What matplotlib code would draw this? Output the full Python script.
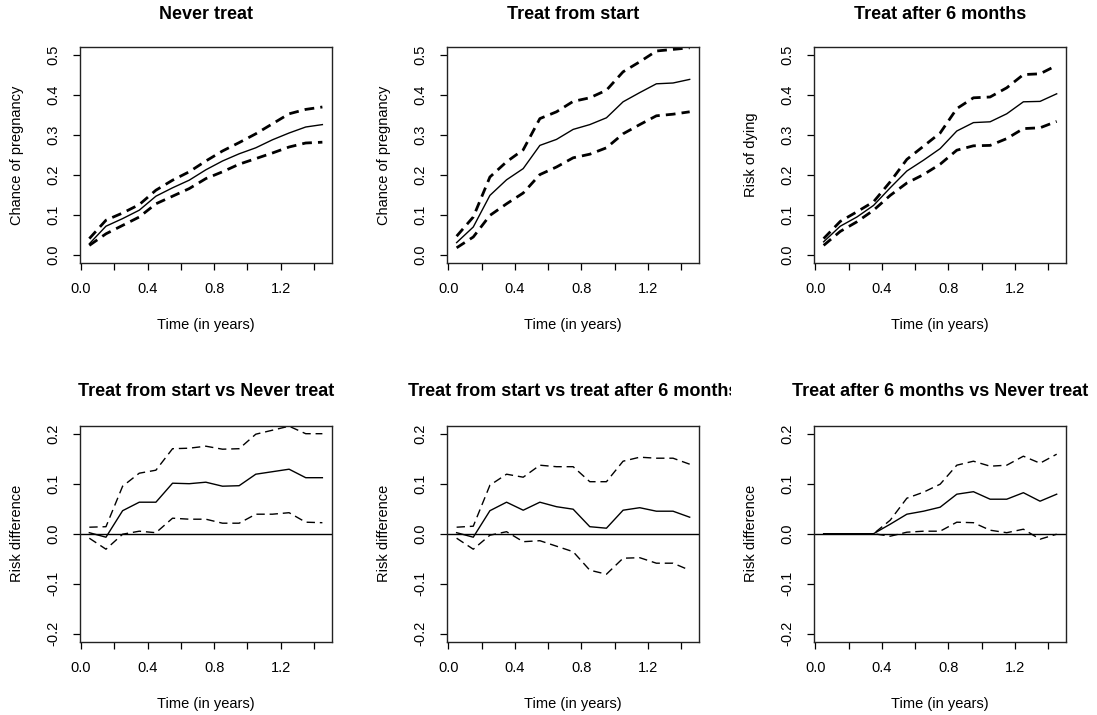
import matplotlib.pyplot as plt
from matplotlib.transforms import Bbox, TransformedBbox

plt.rcParams['font.family'] = ['Liberation Sans', 'DejaVu Sans']

# time points (years)
time = [0.05, 0.15, 0.25, 0.35, 0.45, 0.55, 0.65, 0.75, 0.85, 0.95, 1.05, 1.15, 1.25, 1.35, 1.45]

# risk curves with 95% limits
never_est = [0.028, 0.072, 0.091, 0.112, 0.147, 0.168, 0.187, 0.213, 0.235, 0.253, 0.268, 0.288, 0.305, 0.320, 0.326]
never_hi = [0.041, 0.087, 0.105, 0.126, 0.162, 0.187, 0.208, 0.235, 0.260, 0.281, 0.303, 0.328, 0.353, 0.364, 0.370]
never_lo = [0.024, 0.053, 0.074, 0.095, 0.128, 0.147, 0.166, 0.191, 0.208, 0.227, 0.241, 0.255, 0.270, 0.280, 0.282]

start_est = [0.031, 0.070, 0.149, 0.188, 0.216, 0.274, 0.289, 0.314, 0.326, 0.343, 0.383, 0.406, 0.428, 0.430, 0.439]
start_hi = [0.047, 0.095, 0.195, 0.233, 0.263, 0.341, 0.358, 0.384, 0.393, 0.412, 0.458, 0.483, 0.510, 0.514, 0.518]
start_lo = [0.018, 0.045, 0.099, 0.128, 0.155, 0.201, 0.220, 0.243, 0.252, 0.268, 0.303, 0.326, 0.348, 0.352, 0.358]

after_est = [0.033, 0.072, 0.095, 0.124, 0.168, 0.210, 0.237, 0.266, 0.310, 0.331, 0.333, 0.353, 0.383, 0.384, 0.403]
after_hi = [0.041, 0.084, 0.108, 0.133, 0.183, 0.239, 0.272, 0.305, 0.366, 0.393, 0.395, 0.418, 0.451, 0.453, 0.474]
after_lo = [0.024, 0.059, 0.083, 0.112, 0.149, 0.180, 0.201, 0.227, 0.262, 0.273, 0.274, 0.291, 0.316, 0.318, 0.334]

# risk differences with 95% limits
d_sn_est = [0.002, -0.007, 0.046, 0.063, 0.063, 0.101, 0.100, 0.103, 0.095, 0.096, 0.119, 0.124, 0.129, 0.112, 0.112]
d_sn_hi = [0.013, 0.014, 0.095, 0.121, 0.127, 0.170, 0.171, 0.175, 0.169, 0.170, 0.199, 0.207, 0.215, 0.200, 0.200]
d_sn_lo = [-0.009, -0.031, -0.001, 0.005, 0.002, 0.031, 0.029, 0.029, 0.021, 0.021, 0.039, 0.039, 0.042, 0.023, 0.022]

d_sa_est = [0.002, -0.007, 0.046, 0.063, 0.047, 0.063, 0.054, 0.049, 0.014, 0.011, 0.047, 0.052, 0.045, 0.045, 0.033]
d_sa_hi = [0.013, 0.015, 0.097, 0.119, 0.113, 0.137, 0.134, 0.134, 0.104, 0.104, 0.145, 0.153, 0.151, 0.151, 0.139]
d_sa_lo = [-0.009, -0.031, -0.003, 0.004, -0.016, -0.014, -0.025, -0.036, -0.073, -0.081, -0.049, -0.048, -0.059, -0.059, -0.073]

d_an_est = [0.0, 0.0, 0.0, 0.0, 0.019, 0.039, 0.045, 0.053, 0.079, 0.084, 0.069, 0.069, 0.082, 0.065, 0.079]
d_an_hi = [0.0, 0.0, 0.0, 0.0, 0.027, 0.071, 0.083, 0.099, 0.137, 0.145, 0.135, 0.137, 0.155, 0.141, 0.159]
d_an_lo = [0.0, 0.0, 0.0, 0.0, -0.005, 0.003, 0.005, 0.005, 0.023, 0.022, 0.007, 0.002, 0.009, -0.011, -0.001]

top_titles = ['Never treat', 'Treat from start', 'Treat after 6 months']
top_ylabels = ['Chance of pregnancy', 'Chance of pregnancy', 'Risk of dying']
bottom_titles = ['Treat from start vs Never treat',
                 'Treat from start vs treat after 6 months',
                 'Treat after 6 months vs Never treat']

x_ticks = [0.0, 0.2, 0.4, 0.6, 0.8, 1.0, 1.2, 1.4]
x_ticklabels = ['0.0', '', '0.4', '', '0.8', '', '1.2', '']
top_yticks = [0.0, 0.1, 0.2, 0.3, 0.4, 0.5]
top_yticklabels = ['0.0', '0.1', '0.2', '0.3', '0.4', '0.5']
bottom_yticks = [-0.2, -0.1, 0.0, 0.1, 0.2]
bottom_yticklabels = ['-0.2', '-0.1', '0.0', '0.1', '0.2']

W, H = 1097, 715
FS = 10.5


def make_axes(fig, left, top, right, bottom):
    return fig.add_axes([left / W, 1 - bottom / H, (right - left) / W, (bottom - top) / H])


def style(ax, title, ylabel, yticks, yticklabels, ylim, title_pad):
    xmin, xmax = min(time), max(time)
    pad = 0.04 * (xmax - xmin)
    ax.set_xlim(xmin - pad, xmax + pad)
    ax.set_ylim(ylim)
    ax.set_xticks(x_ticks)
    ax.set_xticklabels(x_ticklabels)
    ax.set_yticks(yticks)
    ax.set_yticklabels(yticklabels, rotation=90, va='center')
    ax.tick_params(direction='out', length=5, width=0.9, labelsize=FS, color='black')
    ax.tick_params(axis='x', pad=9)
    ax.tick_params(axis='y', pad=9)
    for s in ax.spines.values():
        s.set_linewidth(1.0)
        s.set_color('#222222')
    t = ax.set_title(title, fontsize=13, fontweight='bold', pad=title_pad)
    ax.set_xlabel('Time (in years)', fontsize=FS)
    ax.set_ylabel(ylabel, fontsize=FS)
    ax.xaxis.set_label_coords(0.5, -62 / 216)
    ax.xaxis.label.set_va('center')
    ax.yaxis.set_label_coords(-63 / 252, 0.5)
    ax.yaxis.label.set_va('center')
    return t


def main():
    fig = plt.figure(figsize=(W / 100, H / 100), dpi=100)

    lefts = [80, 447.3, 814.3]
    rights = [331.7, 699, 1066]

    top_data = [(never_est, never_lo, never_hi),
                (start_est, start_lo, start_hi),
                (after_est, after_lo, after_hi)]
    bottom_data = [(d_sn_est, d_sn_lo, d_sn_hi),
                   (d_sa_est, d_sa_lo, d_sa_hi),
                   (d_an_est, d_an_lo, d_an_hi)]

    # top row: risk curves
    for i in range(3):
        ax = make_axes(fig, lefts[i], 47, rights[i], 263)
        est, lo, hi = top_data[i]
        ax.plot(time, est, color='black', lw=1.0)
        ax.plot(time, lo, color='black', lw=2.0, dashes=(3.5, 2.2))
        ax.plot(time, hi, color='black', lw=2.0, dashes=(3.5, 2.2))
        style(ax, top_titles[i], top_ylabels[i], top_yticks, top_yticklabels, (-0.02, 0.52), 20)

    # bottom row: risk differences
    for i in range(3):
        ax = make_axes(fig, lefts[i], 425.7, rights[i], 641.7)
        est, lo, hi = bottom_data[i]
        ax.axhline(0, color='black', lw=1.0)
        ax.plot(time, est, color='black', lw=1.0)
        ax.plot(time, lo, color='black', lw=1.0, dashes=(6, 3.5))
        ax.plot(time, hi, color='black', lw=1.0, dashes=(6, 3.5))
        t = style(ax, bottom_titles[i], 'Risk difference', bottom_yticks, bottom_yticklabels,
                  (-0.216, 0.216), 21.5)
        if i == 1:
            # R clips the long title at its figure region
            t.set_clip_box(TransformedBbox(Bbox([[0, 0], [2 / 3, 1]]), fig.transFigure))
            t.set_clip_on(True)

    fig.savefig('out.png', dpi=100)


if __name__ == "__main__":
    main()
